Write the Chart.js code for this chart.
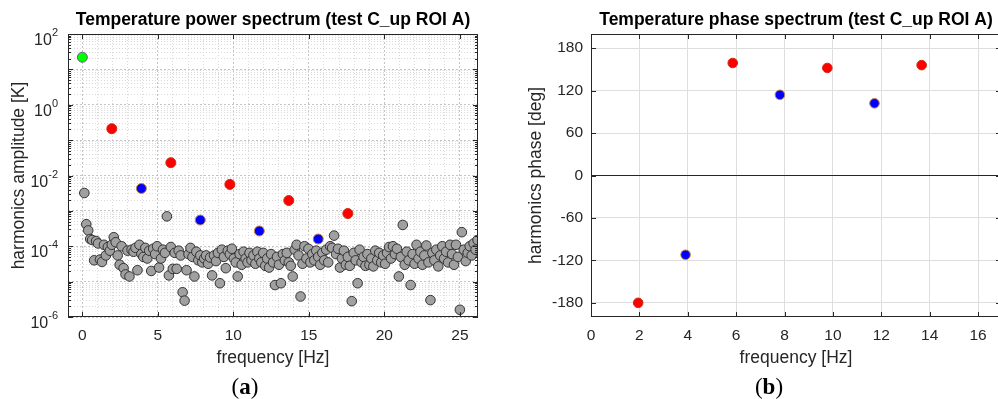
<!DOCTYPE html>
<html>
<head>
<meta charset="utf-8">
<script src="https://cdn.jsdelivr.net/npm/chart.js@4.4.1/dist/chart.umd.min.js"></script>
<style>
  html, body { margin: 0; padding: 0; background: #fff; }
  body { width: 998px; height: 399px; overflow: hidden; position: relative; }
  .panel { position: absolute; top: 0; }
  #powerBox { left: 0; }
  #phaseBox { left: 500px; }
  .tag { position: absolute; top: 374px; font-family: "Liberation Serif", "DejaVu Serif", serif; font-size: 23px; color: #000; transform: translateX(-50%); }
</style>
</head>
<body>
<div class="panel" id="powerBox"><canvas id="powerChart" width="500" height="399"></canvas></div>
<div class="panel" id="phaseBox"><canvas id="phaseChart" width="510" height="399"></canvas></div>
<div class="tag" style="left:245px">(<b>a</b>)</div>
<div class="tag" style="left:769px">(<b>b</b>)</div>
<script>
// ---- power spectrum: all FFT bins (grey) ----
const binFreqs = [0.13, 0.26, 0.39, 0.52, 0.65, 0.78, 0.91, 1.04, 1.17, 1.30, 1.43, 1.56, 1.69, 1.82, 1.95,
  2.08, 2.21, 2.34, 2.47, 2.60, 2.73, 2.86, 2.99, 3.12, 3.26, 3.39, 3.52, 3.65, 3.78, 3.91,
  4.04, 4.17, 4.30, 4.43, 4.56, 4.69, 4.82, 4.95, 5.08, 5.21, 5.34, 5.47, 5.60, 5.73, 5.86,
  5.99, 6.12, 6.25, 6.38, 6.51, 6.64, 6.77, 6.90, 7.03, 7.16, 7.29, 7.42, 7.55, 7.68, 7.81,
  7.94, 8.07, 8.20, 8.33, 8.46, 8.59, 8.72, 8.85, 8.98, 9.11, 9.24, 9.37, 9.50, 9.63, 9.77,
  9.90, 10.03, 10.16, 10.29, 10.42, 10.55, 10.68, 10.81, 10.94, 11.07, 11.20, 11.33, 11.46, 11.59, 11.72,
  11.85, 11.98, 12.11, 12.24, 12.37, 12.50, 12.63, 12.76, 12.89, 13.02, 13.15, 13.28, 13.41, 13.54, 13.67,
  13.80, 13.93, 14.06, 14.19, 14.32, 14.45, 14.58, 14.71, 14.84, 14.97, 15.10, 15.23, 15.36, 15.49, 15.62,
  15.75, 15.89, 16.02, 16.15, 16.28, 16.41, 16.54, 16.67, 16.80, 16.93, 17.06, 17.19, 17.32, 17.45, 17.58,
  17.71, 17.84, 17.97, 18.10, 18.23, 18.36, 18.49, 18.62, 18.75, 18.88, 19.01, 19.14, 19.27, 19.40, 19.53,
  19.66, 19.79, 19.92, 20.05, 20.18, 20.31, 20.44, 20.57, 20.70, 20.83, 20.96, 21.09, 21.22, 21.35, 21.48,
  21.61, 21.74, 21.87, 22.00, 22.13, 22.26, 22.39, 22.52, 22.65, 22.78, 22.92, 23.05, 23.18, 23.31, 23.44,
  23.57, 23.70, 23.83, 23.96, 24.09, 24.22, 24.35, 24.48, 24.61, 24.74, 24.87, 25.00, 25.13, 25.26, 25.39,
  25.52, 25.65, 25.78, 25.91, 26.04, 26.17];
const binAmps = [3.2e-3, 4.2e-4, 2.8e-4, 1.6e-4, 1.5e-4, 4.0e-5, 1.4e-4, 1.2e-4, 4.2e-5, 3.6e-5, 1.1e-4, 5.5e-5, 9.5e-5, 7.5e-5, 1.1e-4,
  1.8e-4, 1.3e-4, 5.5e-5, 3.0e-5, 1.0e-4, 2.4e-5, 1.6e-5, 7.5e-5, 1.4e-5, 8.0e-5, 7.0e-5, 9.0e-5, 2.1e-5, 1.1e-4, 6.0e-5,
  5.0e-5, 9.0e-5, 4.5e-5, 7.5e-5, 2.0e-5, 8.5e-5, 6.0e-5, 1.0e-4, 2.5e-5, 4.5e-5, 8.0e-5, 6.5e-5, 7.0e-4, 1.5e-5, 9.5e-5,
  2.3e-5, 6.5e-5, 2.3e-5, 7.5e-5, 5.5e-5, 5.0e-6, 2.9e-6, 2.1e-5, 6.0e-5, 9.0e-5, 5.0e-5, 1.4e-5, 7.0e-5, 4.0e-5, 5.5e-5,
  3.5e-5, 4.5e-5, 5.5e-5, 3.2e-5, 4.8e-5, 1.5e-5, 5.5e-5, 3.8e-5, 6.5e-5, 9.0e-6, 8.0e-5, 5.0e-5, 2.4e-5, 7.5e-5, 6.0e-5,
  8.5e-5, 4.5e-5, 3.5e-5, 1.4e-5, 6.0e-5, 3.0e-5, 7.0e-5, 4.5e-5, 3.5e-5, 6.5e-5, 4.0e-5, 5.5e-5, 3.2e-5, 7.0e-5, 4.5e-5,
  3.5e-5, 6.5e-5, 2.8e-5, 4.5e-5, 2.5e-5, 6.0e-5, 3.5e-5, 8.0e-6, 5.0e-5, 3.0e-5, 9.0e-6, 6.0e-5, 4.0e-5, 6.5e-5, 3.5e-5,
  2.8e-5, 1.4e-5, 8.0e-5, 1.1e-4, 5.5e-5, 3.8e-6, 3.2e-5, 1.0e-4, 4.5e-5, 8.5e-5, 3.5e-5, 6.0e-5, 4.0e-5, 7.5e-5, 5.0e-5,
  3.0e-5, 6.5e-5, 4.0e-5, 8.0e-5, 3.5e-5, 1.0e-4, 9.0e-5, 2.0e-4, 6.0e-5, 8.5e-5, 2.5e-5, 4.5e-5, 7.5e-5, 3.0e-5, 5.0e-5,
  2.8e-5, 2.8e-6, 6.5e-5, 4.0e-5, 9.0e-6, 8.0e-5, 3.5e-5, 5.0e-5, 2.8e-5, 6.0e-5, 3.0e-5, 4.5e-5, 2.7e-5, 7.5e-5, 4.0e-5,
  6.5e-5, 3.5e-5, 5.5e-5, 3.2e-5, 6.5e-5, 9.5e-5, 4.5e-5, 1.0e-4, 6.0e-5, 8.5e-5, 1.4e-5, 5.0e-5, 4.0e-4, 3.0e-5, 7.0e-5,
  4.0e-5, 8.0e-6, 6.0e-5, 3.2e-5, 1.1e-4, 4.5e-5, 7.0e-5, 3.0e-5, 5.5e-5, 1.05e-4, 3.5e-5, 3.0e-6, 6.5e-5, 4.0e-5, 8.0e-5,
  2.7e-5, 5.5e-5, 1.0e-4, 4.5e-5, 7.0e-5, 3.5e-5, 1.1e-4, 6.0e-5, 3.0e-5, 1.1e-4, 5.0e-5, 1.6e-6, 2.5e-4, 8.0e-5, 3.8e-5,
  6.5e-5, 1.0e-4, 5.5e-5, 1.2e-4, 8.0e-5, 1.5e-4];

// mean value, odd and even harmonics
const dcFreq = [0];
const dcAmp = [22];
const oddFreqs = [1.95, 5.86, 9.77, 13.67, 17.58];
const oddAmps = [0.21, 0.023, 0.0056, 0.00196, 0.00084];
const evenFreqs = [3.91, 7.81, 11.72, 15.62];
const evenAmps = [0.0043, 0.00055, 0.00027, 0.00016];

// ---- phase spectrum ----
const oddPhaseFreqs = [1.95, 5.86, 9.77, 13.67];
const oddPhases = [-180, 159, 152, 156];
const evenPhaseFreqs = [3.91, 7.81, 11.72];
const evenPhases = [-112, 114, 102];

// axes
const ampDecades = [-6, -5, -4, -3, -2, -1, 0, 1, 2];
const ampLabelled = [2, 0, -2, -4, -6];
const powerFreqTicks = [0, 5, 10, 15, 20, 25];
const phaseFreqTicks = [0, 2, 4, 6, 8, 10, 12, 14, 16];
const phaseTicks = [-180, -120, -60, 0, 60, 120, 180];

const FONT = '"Liberation Sans", Arial, sans-serif';
const TXT = '#262626';

function pts(fs, vs) { return fs.map((f, i) => ({ x: f, y: vs[i] })); }
const isDecade = v => Math.abs(Math.log10(v) - Math.round(Math.log10(v))) < 1e-9;

// box around the plot + inward tick marks (matlab style)
const boxTicks = {
  id: 'boxTicks',
  afterDatasetsDraw(chart, args, opts) {
    const { ctx, chartArea: a } = chart;
    const xs = chart.scales.x, ys = chart.scales.y;
    ctx.save();
    ctx.strokeStyle = TXT;
    ctx.lineWidth = 1;
    ctx.beginPath();
    xs.ticks.forEach(t => {
      if (!opts.xMajor(t.value)) return;
      const x = Math.round(xs.getPixelForValue(t.value)) + 0.5;
      ctx.moveTo(x, a.bottom); ctx.lineTo(x, a.bottom - 5);
      ctx.moveTo(x, a.top); ctx.lineTo(x, a.top + 5);
    });
    ys.ticks.forEach(t => {
      const len = opts.yMajor(t.value) ? 5 : 3;
      const y = Math.round(ys.getPixelForValue(t.value)) + 0.5;
      ctx.moveTo(a.left, y); ctx.lineTo(a.left + len, y);
      ctx.moveTo(a.right, y); ctx.lineTo(a.right - len, y);
    });
    ctx.stroke();
    ctx.strokeRect(Math.round(a.left) + 0.5, Math.round(a.top) + 0.5, Math.round(a.width) - 1, Math.round(a.height) - 1);
    ctx.restore();
  }
};

// 10^n labels with superscript exponent
const powerLabels = {
  id: 'powerLabels',
  afterDraw(chart) {
    const { ctx, chartArea: a } = chart;
    const ys = chart.scales.y;
    ctx.save();
    ctx.fillStyle = TXT;
    ctx.textBaseline = 'alphabetic';
    ctx.textAlign = 'right';
    ampLabelled.forEach(e => {
      const y = ys.getPixelForValue(Math.pow(10, e));
      const exp = String(e).replace('-', '\u2010');
      ctx.font = '11px ' + FONT;
      const ew = ctx.measureText(exp).width;
      const right = a.left - 10;
      ctx.fillText(exp, right, y + 2);
      ctx.font = '16px ' + FONT;
      ctx.fillText('10', right - ew, y + 11);
    });
    ctx.restore();
  }
};

new Chart(document.getElementById('powerChart'), {
  type: 'scatter',
  data: {
    datasets: [
      { data: pts(binFreqs, binAmps), backgroundColor: '#a0a0a0', borderColor: '#333333', borderWidth: 1, pointRadius: 4.8, order: 3 },
      { data: pts(evenFreqs, evenAmps), backgroundColor: '#0000ff', borderColor: '#c8843a', borderWidth: 1, pointRadius: 5, order: 1 },
      { data: pts(oddFreqs, oddAmps), backgroundColor: '#ff0000', borderColor: '#d02a10', borderWidth: 1, pointRadius: 5, order: 1 },
      { data: pts(dcFreq, dcAmp), backgroundColor: '#00ff00', borderColor: '#6f5a86', borderWidth: 1, pointRadius: 5, order: 1 }
    ]
  },
  options: {
    responsive: false,
    animation: false,
    events: [],
    layout: { padding: { top: 0, right: 22, bottom: 25, left: 0 } },
    plugins: {
      legend: { display: false },
      tooltip: { enabled: false },
      title: {
        display: true,
        fullSize: false,
        text: 'Temperature power spectrum (test C_up ROI A)',
        color: '#000',
        font: { family: FONT, size: 17.5, weight: 'bold' },
        padding: { top: 10, bottom: 3 }
      },
      boxTicks: {
        xMajor: v => powerFreqTicks.includes(v),
        yMajor: v => isDecade(v)
      }
    },
    scales: {
      x: {
        type: 'linear', min: -0.95, max: 26.2,
        afterBuildTicks: s => {
          const t = [];
          for (let v = 0; v <= 26; v++) t.push({ value: v });
          s.ticks = t;
        },
        afterFit: s => { s.height = 57; },
        ticks: {
          autoSkip: false, maxRotation: 0, padding: 9, color: TXT,
          font: { family: FONT, size: 15.5 },
          callback: v => powerFreqTicks.includes(v) ? String(v) : ''
        },
        grid: {
          drawTicks: false,
          color: c => powerFreqTicks.includes(c.tick.value) ? '#c4c4c4' : '#dadada'
        },
        border: { display: false, dash: c => powerFreqTicks.includes(c.tick.value) ? [2, 2] : [1, 2] },
        title: { display: true, text: 'frequency [Hz]', color: TXT, font: { family: FONT, size: 17.5 }, padding: { top: 0, bottom: 5.5 } }
      },
      y: {
        type: 'logarithmic', min: 1e-6, max: 100,
        afterBuildTicks: s => {
          const t = [];
          ampDecades.forEach(e => {
            for (let m = 1; m <= 9; m++) {
              if (e === 2 && m > 1) break;
              t.push({ value: m * Math.pow(10, e) });
            }
          });
          s.ticks = t;
        },
        afterFit: s => { s.width = 68; },
        ticks: { autoSkip: false, callback: () => '', font: { family: FONT, size: 15.5 } },
        grid: {
          drawTicks: false,
          color: c => isDecade(c.tick.value) ? '#c4c4c4' : '#dadada'
        },
        border: { display: false, dash: c => isDecade(c.tick.value) ? [2, 2] : [1, 2] },
        title: { display: true, text: 'harmonics amplitude [K]', color: TXT, font: { family: FONT, size: 17.5 }, padding: { top: 8.5, bottom: 0 } }
      }
    }
  },
  plugins: [boxTicks, powerLabels]
});

new Chart(document.getElementById('phaseChart'), {
  type: 'scatter',
  data: {
    datasets: [
      { data: pts(evenPhaseFreqs, evenPhases), backgroundColor: '#0000ff', borderColor: '#c8843a', borderWidth: 1, pointRadius: 4.8 },
      { data: pts(oddPhaseFreqs, oddPhases), backgroundColor: '#ff0000', borderColor: '#d02a10', borderWidth: 1, pointRadius: 4.8 }
    ]
  },
  options: {
    responsive: false,
    animation: false,
    events: [],
    layout: { padding: { top: 0, right: 9, bottom: 25, left: 0 } },
    plugins: {
      legend: { display: false },
      tooltip: { enabled: false },
      title: {
        display: true,
        fullSize: false,
        text: 'Temperature phase spectrum (test C_up ROI A)',
        color: '#000',
        font: { family: FONT, size: 17.5, weight: 'bold' },
        padding: { top: 10, bottom: 3 }
      },
      boxTicks: { xMajor: () => true, yMajor: () => true }
    },
    scales: {
      x: {
        type: 'linear', min: 0, max: 16.95,
        afterBuildTicks: s => { s.ticks = phaseFreqTicks.map(v => ({ value: v })); },
        afterFit: s => { s.height = 57; },
        ticks: { autoSkip: false, maxRotation: 0, padding: 9, color: TXT, font: { family: FONT, size: 15.5 } },
        grid: { drawTicks: false, color: '#dedede' },
        border: { display: false },
        title: { display: true, text: 'frequency [Hz]', color: TXT, font: { family: FONT, size: 17.5 }, padding: { top: 0, bottom: 5.5 } }
      },
      y: {
        type: 'linear', min: -200, max: 200,
        afterBuildTicks: s => { s.ticks = phaseTicks.map(v => ({ value: v })); },
        afterFit: s => { s.width = 91; },
        ticks: { autoSkip: false, padding: 8, color: TXT, font: { family: FONT, size: 15.5 } },
        grid: { drawTicks: false, color: c => c.tick.value === 0 ? '#262626' : '#dedede' },
        border: { display: false },
        title: { display: true, text: 'harmonics phase [deg]', color: TXT, font: { family: FONT, size: 17.5 }, padding: { top: 26, bottom: 0 } }
      }
    }
  },
  plugins: [boxTicks]
});
</script>
</body>
</html>
